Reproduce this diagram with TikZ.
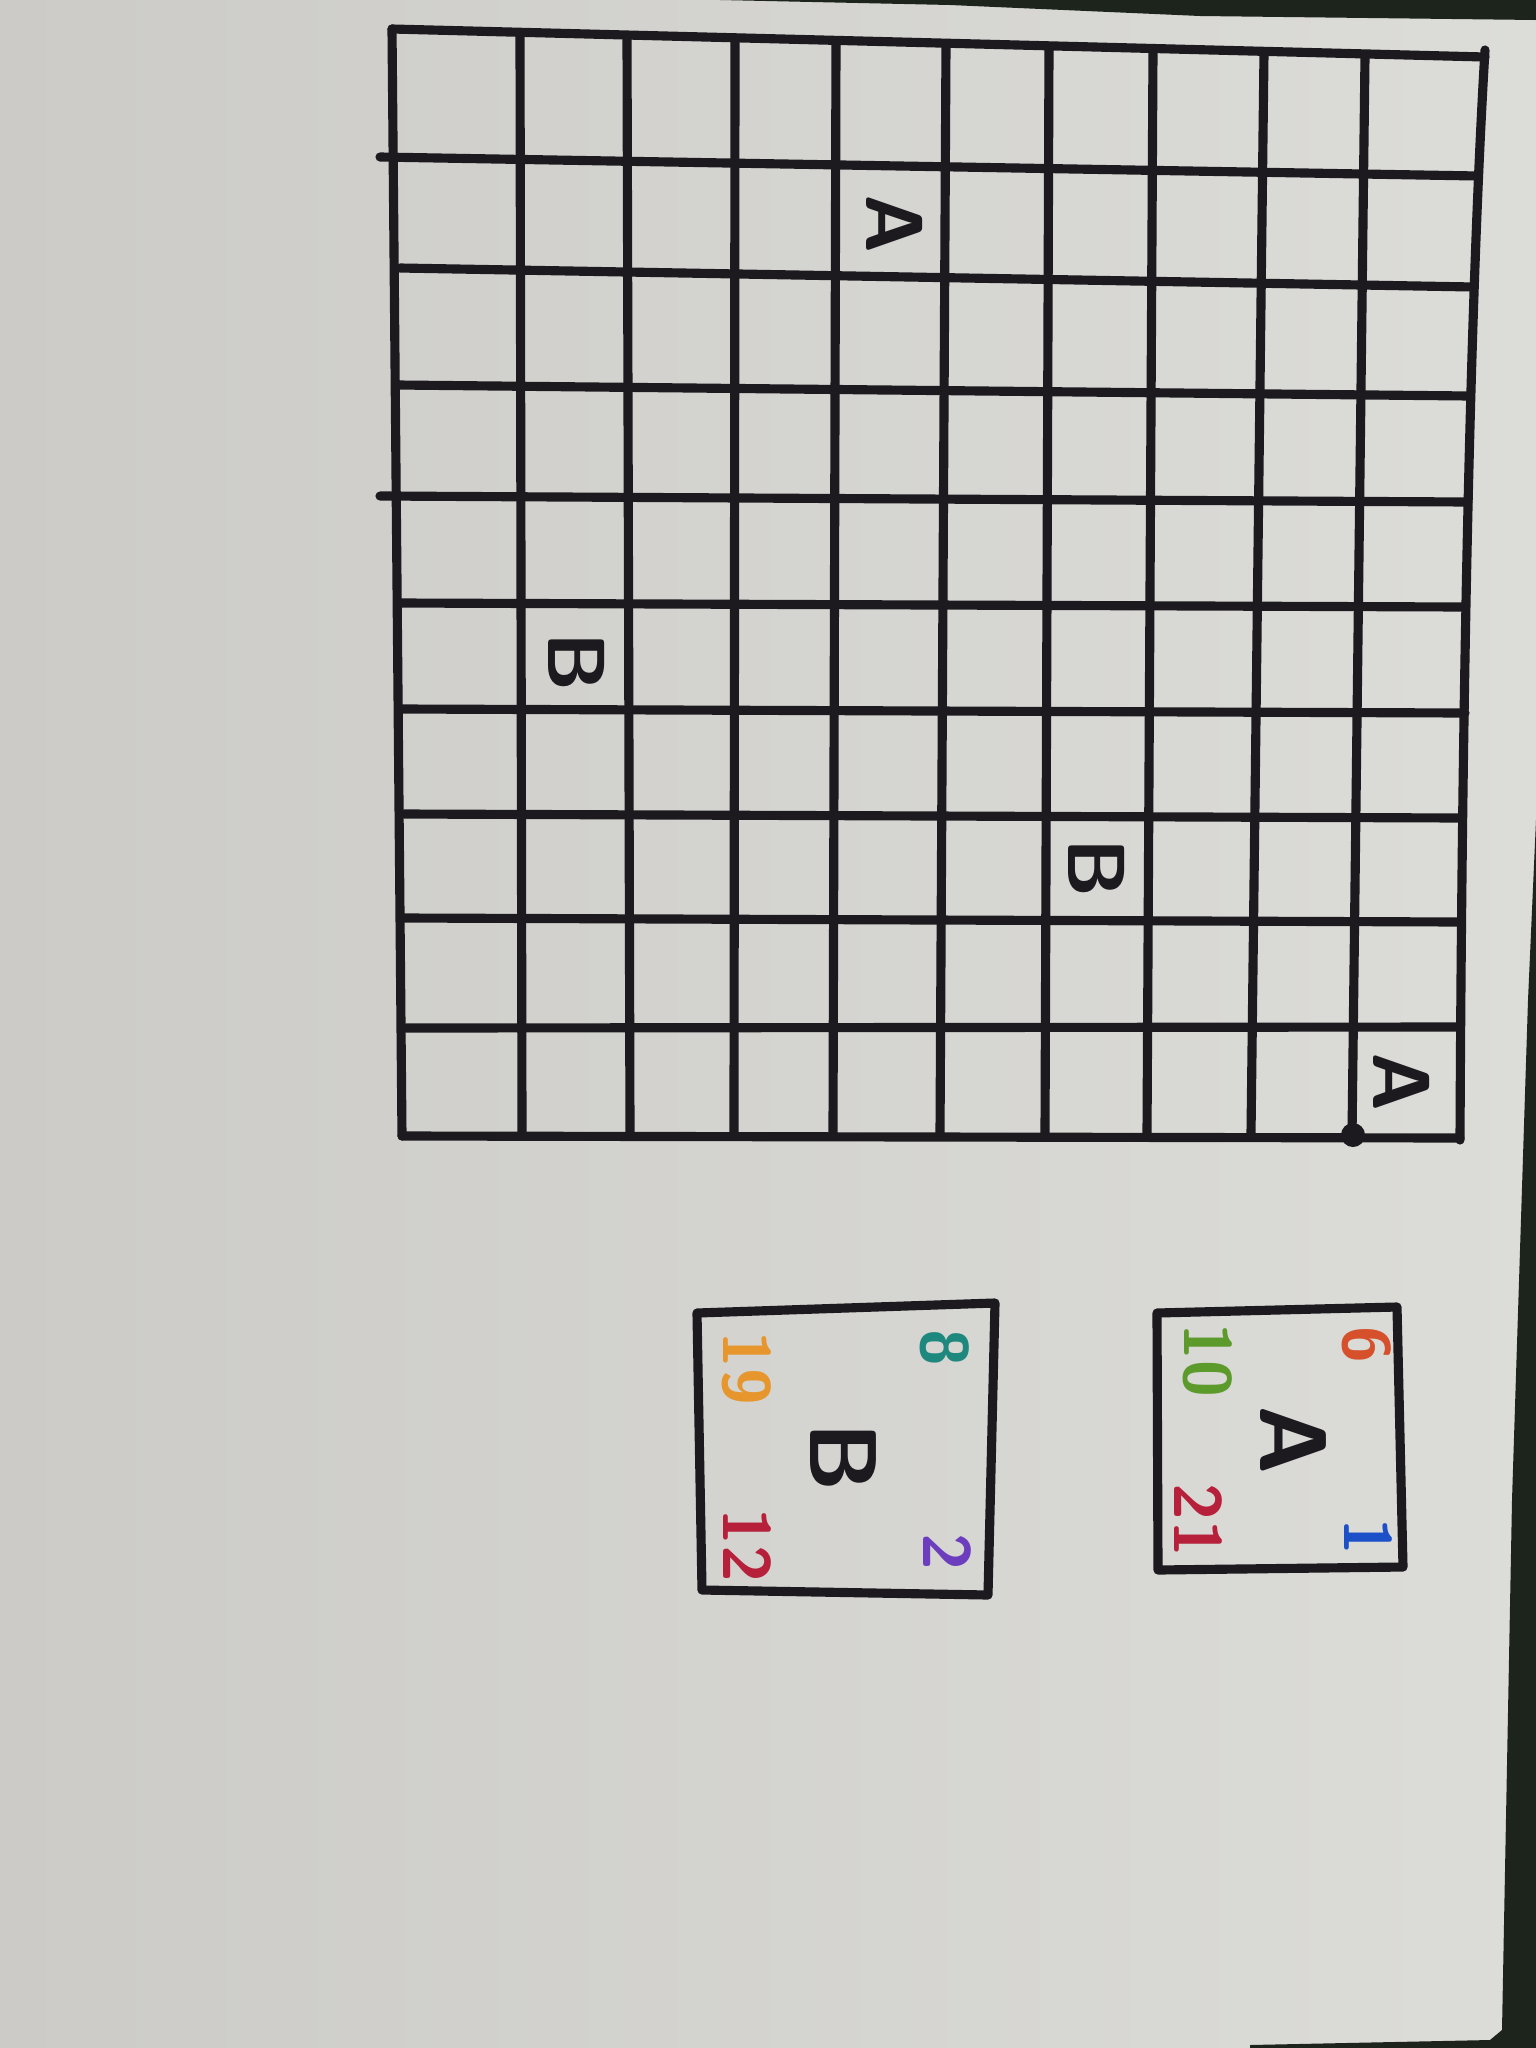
\documentclass[tikz,border=0pt]{standalone}
\definecolor{paperdark}{RGB}{204,203,200}
\definecolor{paperlight}{RGB}{220,220,217}
\definecolor{table}{RGB}{28,36,28}
\definecolor{ink}{RGB}{28,26,30}
\definecolor{redorange}{RGB}{214,80,44}
\definecolor{leaf}{RGB}{92,154,44}
\definecolor{crimson}{RGB}{182,32,58}
\definecolor{penblue}{RGB}{28,80,200}
\definecolor{teal}{RGB}{30,136,126}
\definecolor{amber}{RGB}{230,150,44}
\definecolor{violet}{RGB}{108,62,190}
\tikzset{
	gridline/.style = {draw = ink, line width = 2.6pt, line cap = round},
	glyph/.style = {text = ink, rotate = -90, inner sep = 0pt, font = \fontsize{23}{23}\selectfont\sffamily\bfseries},
	bigglyph/.style = {glyph, font = \fontsize{27}{27}\selectfont\sffamily\bfseries},
	numtext/.style = {rotate = -90, inner sep = 0pt, font = \fontsize{19}{19}\selectfont\sffamily\bfseries}
}
\begin{document}
	\begin{tikzpicture}[x = 0.01cm, y = -0.01cm, line join = round]
	\useasboundingbox (0, 0) rectangle (1536, 2048);
	\fill [left color = paperdark, right color = paperlight] (0, 0) rectangle (1536, 2048);
	\fill [table] (720, 0) -- (950, 5) -- (1200, 16) -- (1536, 20) -- (1536, 0) -- cycle;
	\fill [table] (1536, 820) -- (1528, 1000) -- (1512, 1500) -- (1502, 2030) -- (1490, 2040) -- (1250, 2045) -- (1250, 2048) -- (1536, 2048) -- cycle;
	\foreach \xa/\ya/\xb/\yb in {392/29/402/1136, 520/33/522/1134, 627/36/630/1134, 735/38/734/1134, 836/41/833/1134, 946/44/940/1134, 1049/47/1045/1134, 1153/50/1147/1134, 1264/53/1251/1134, 1365/56/1352/1136}{
		\draw [gridline] (\xa, \ya) -- (\xb, \yb);}
	\draw [gridline] (1485, 50) .. controls (1470, 300) and (1462, 700) .. (1460, 1140);
	\foreach \xa/\ya/\xb/\yb in {392/29/1485/57, 380/157/1478/176, 400/268/1474/287, 398/385/1470/396, 380/496/1468/502, 400/603/1465/607, 402/709/1465/713, 404/814/1462/818, 404/918/1461/922, 406/1028/1460/1027, 402/1136/1460/1138}{
		\draw [gridline] (\xa, \ya) -- (\xb, \yb);}
	\fill [ink] (1353, 1135) circle (12);
	\foreach \x/\y/\lab/\nm in {895/224/A/ga1, 577/662/B/gb1, 1097/868/B/gb2, 1402/1082/A/ga2}{
		\node [glyph] (\nm) at (\x, \y) {\lab};}
	\draw [gridline] (1157, 1313) -- (1397, 1307) -- (1403, 1567) -- (1158, 1570) -- cycle;
	\draw [gridline] (697, 1313) -- (995, 1303) -- (988, 1595) -- (702, 1590) -- cycle;
	\node [bigglyph] (keyA) at (1293, 1440) {A};
	\node [bigglyph] (keyB) at (843, 1457) {B};
	\foreach \x/\y/\num/\col in {1367/1345/6/redorange, 1208/1360/10/leaf, 1198/1520/21/crimson, 1368/1537/1/penblue, 945/1348/8/teal, 747/1368/19/amber, 747/1545/12/crimson, 947/1552/2/violet}{
		\node [numtext, text = \col] (n\num) at (\x, \y) {\num};}
	\end{tikzpicture}
\end{document}
